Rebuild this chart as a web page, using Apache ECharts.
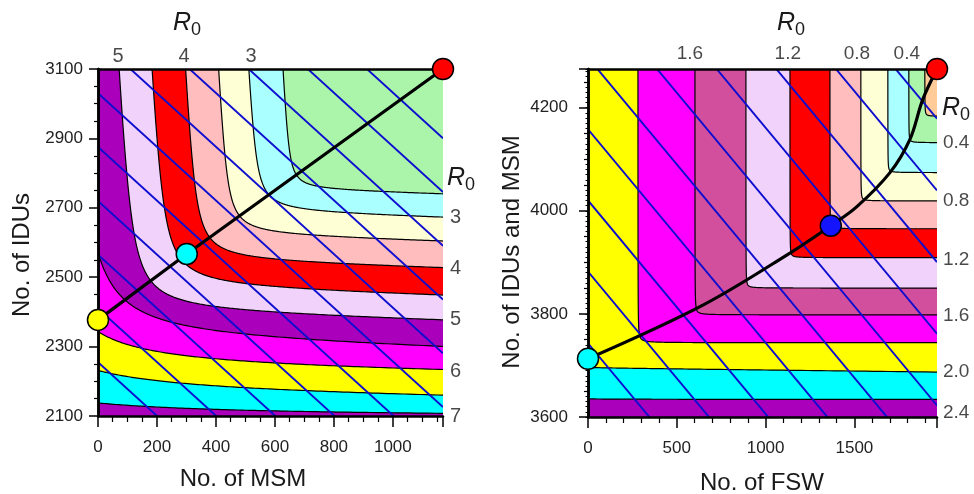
<!DOCTYPE html>
<html>
<head>
<meta charset="utf-8">
<script src="https://cdn.jsdelivr.net/npm/echarts@6/dist/echarts.min.js"></script>
<style>
  html, body { margin: 0; padding: 0; background: #fff; }
  #chart { width: 974px; height: 494px; }
</style>
</head>
<body>
<div id="chart"></div>
<script>
const FONT = '"Liberation Sans", Arial, sans-serif';

// ---------- 左图：MSM / IDUs ----------
const msmRange = [0, 1170];
const iduRange = [2100, 3100];
const leftLevels = [7, 6.5, 6, 5.5, 5, 4.5, 4, 3.5, 3, 2.5];
// 每条等值线：竖直渐近线(MSM)、水平渐近线(IDUs)、拐角弯曲度、水平段倾斜
const leftAsymMsm = [-536, -332, -197, -61, 102, 210, 322, 431, 529, 644];
const leftAsymIdu = [2094, 2163, 2235, 2316, 2397, 2466, 2544, 2619, 2685, 2751];
const leftBend = [23500, 24400, 22500, 19500, 7800, 6800, 4400, 3100, 2900, 1400];
const leftDrift = [0, 0.0128, 0.0128, 0.0255, 0.0255, 0.0255, 0.0255, 0.0255, 0.0255, 0.0255];
const leftLean = 0.0588;
const leftBandColors = ['#00ffff', '#ffff00', '#ff00ff', '#aa00bb', '#f0d2fa', '#ff0000', '#ffbdbd', '#ffffd6', '#aaffff', '#aaf5aa'];
const leftBaseColor = '#aa00bb';
// 蓝色斜线（MSM=0 处的 IDUs 截距）
const leftCostLines = [2255, 2410, 2565, 2720, 2875, 3030, 3185, 3340, 3495, 3650, 3805];
const leftCostSlope = 0.773;
// 黑色路径与圆点
const leftPathMsm = [0, 301, 1170];
const leftPathIdu = [2377, 2567, 3100];
const leftDotColors = ['#ffff00', '#00ffff', '#ff0000'];
// R0 标注
const leftTopR0 = ['5', '4', '3'];
const leftTopR0Msm = [68, 292, 519];
const leftSideR0 = ['3', '4', '5', '6', '7'];
const leftSideR0Idu = [2671, 2524, 2377, 2227, 2100];

// ---------- 右图：FSW / IDUs and MSM ----------
const fswRange = [0, 1965];
const iduMsmRange = [3600, 4275];
const rightLevels = [2.2, 2.0, 1.8, 1.6, 1.4, 1.2, 1.0, 0.8, 0.6, 0.4, 0.2];
const rightAsymFsw = [-270, -270, 281, 602, 889, 1137, 1362, 1536, 1688, 1806, 1896];
const rightAsymIdu = [3634, 3696, 3744, 3798, 3850, 3909, 3965, 4019, 4074, 4132, 4183];
const rightBend = [300, 300, 140, 100, 70, 60, 60, 55, 50, 45, 40];
const rightDrift = [0, 0.004, 0, 0, 0, 0, 0, 0, 0, 0, 0];
const rightLean = 0;
const rightBandColors = ['#00ffff', '#ffff00', '#ff00ff', '#d24f9e', '#f0d2fa', '#ff0000', '#ffbdbd', '#ffffd6', '#aaffff', '#aaf5aa', '#ffcc99'];
const rightBaseColor = '#aa00bb';
const rightCostLines = [3743, 3882, 4020, 4158, 4297, 4436, 4575, 4714, 4853, 4992];
const rightCostSlope = 0.414;
const rightPathFsw = [0, 647, 1137, 1367, 1514, 1700, 1812, 1885, 1965];
const rightPathIdu = [3713, 3817, 3918, 3971, 4008, 4074, 4138, 4216, 4275];
const rightDotFsw = [0, 1367, 1965];
const rightDotIdu = [3713, 3971, 4275];
const rightDotColors = ['#00ffff', '#1414ff', '#ff0000'];
const rightTopR0 = ['1.6', '1.2', '0.8', '0.4'];
const rightTopR0Fsw = [574, 1125, 1514, 1795];
const rightSideR0 = ['0.4', '0.8', '1.2', '1.6', '2.0', '2.4'];
const rightSideR0Idu = [4132, 4019, 3905, 3796, 3687, 3608];

const chart = echarts.init(document.getElementById('chart'));

function clipOf(params) {
  const c = params.coordSys;
  return { type: 'rect', shape: { x: c.x, y: c.y, width: c.width, height: c.height } };
}

// 等值线围成的区域（R0 低于该水平的右上区域）
function bandRenderer(asymX, asymY, bend, drift, lean, xr, yr, colors) {
  return function (params, api) {
    const i = params.dataIndex;
    const a = asymX[i], b = asymY[i], k = bend[i], be = drift[i];
    const d = 1 - lean * be;
    const tMin = k / (yr[1] - b + (yr[1] - yr[0]));
    const tMax = (xr[1] - a) + (xr[1] - xr[0]);
    const pts = [];
    const n = 400;
    for (let j = 0; j <= n; j++) {
      const t = tMin * Math.pow(tMax / tMin, j / n);
      const X = (t - lean * k / t) / d;
      const Y = (k / t - be * t) / d;
      pts.push(api.coord([a + X, b + Y]));
    }
    const first = pts[0], last = pts[pts.length - 1];
    pts.push([last[0], first[1]]);
    return {
      type: 'polygon',
      clipPath: clipOf(params),
      shape: { points: pts },
      style: { fill: colors[i], stroke: '#000', lineWidth: 1.2 }
    };
  };
}

function costRenderer(lines, slope, xr) {
  return function (params, api) {
    const c = lines[params.dataIndex];
    const p1 = api.coord([xr[0], c - slope * xr[0]]);
    const p2 = api.coord([xr[1], c - slope * xr[1]]);
    return {
      type: 'line',
      clipPath: clipOf(params),
      shape: { x1: p1[0], y1: p1[1], x2: p2[0], y2: p2[1] },
      style: { stroke: '#0d0dd0', lineWidth: 1.9 }
    };
  };
}

// 只在 min + n*interval 处显示刻度值，不加千位分隔符
function tickFormatter(range, interval) {
  return function (v) {
    const r = (v - range[0]) / interval;
    return Math.abs(r - Math.round(r)) < 1e-6 ? String(v) : '';
  };
}

function mainXAxis(grid, range, interval, minorSplit) {
  return {
    type: 'value', gridIndex: grid, min: range[0], max: range[1], interval: interval, z: 10,
    axisLine: { lineStyle: { color: '#000', width: 2.5 } },
    axisTick: { length: 11, lineStyle: { color: '#000', width: 1.5 } },
    minorTick: { show: true, splitNumber: minorSplit, length: 6, lineStyle: { color: '#000', width: 1.2 } },
    axisLabel: { fontFamily: FONT, fontSize: 17, color: '#222', margin: 23, formatter: tickFormatter(range, interval) },
    splitLine: { show: false }
  };
}
function mainYAxis(grid, range, interval, margin) {
  return {
    type: 'value', gridIndex: grid, min: range[0], max: range[1], interval: interval, z: 10,
    axisLine: { lineStyle: { color: '#000', width: 2.5 } },
    axisTick: { length: 9, lineStyle: { color: '#000', width: 1.5 } },
    minorTick: { show: true, splitNumber: 4, length: 4, lineStyle: { color: '#000', width: 1.2 } },
    axisLabel: { fontFamily: FONT, fontSize: 17, color: '#222', margin: margin, formatter: tickFormatter(range, interval) },
    splitLine: { show: false }
  };
}
function frameAxis(grid, range, pos) {
  return {
    type: 'value', gridIndex: grid, min: range[0], max: range[1], position: pos, z: 10,
    axisLine: { lineStyle: { color: '#000', width: 2.5 } },
    axisTick: { show: false }, axisLabel: { show: false }, splitLine: { show: false }
  };
}
// 右图纵轴上的细小刻度（每 10）
function fineTickAxis(grid, range) {
  return {
    type: 'value', gridIndex: grid, min: range[0], max: range[1], interval: 10, position: 'left', z: 10,
    axisLine: { show: false },
    axisTick: { length: 2.5, lineStyle: { color: '#000', width: 1 } },
    axisLabel: { show: false }, splitLine: { show: false }
  };
}

function labelSeries(xi, yi, pts, texts, position, distance, size) {
  return {
    type: 'scatter', xAxisIndex: xi, yAxisIndex: yi, symbolSize: 0, clip: false, silent: true, z: 30,
    data: pts.map((p, i) => ({ value: p, label: { formatter: texts[i] } })),
    label: { show: true, position: position, distance: distance, fontFamily: FONT, fontSize: size, color: '#1a1a1a' }
  };
}

function r0Title(x, y, rSize, sSize) {
  return [
    { type: 'text', x: x, y: y, z: 50, style: { text: 'R', font: 'italic ' + rSize + 'px ' + FONT, fill: '#1a1a1a', textAlign: 'left', textVerticalAlign: 'middle' } },
    { type: 'text', x: x + rSize * 0.72, y: y + rSize * 0.3, z: 50, style: { text: '0', font: sSize + 'px ' + FONT, fill: '#1a1a1a', textAlign: 'left', textVerticalAlign: 'middle' } }
  ];
}

const option = {
  backgroundColor: '#fff',
  animation: false,
  grid: [
    { left: 98, top: 69, width: 345, height: 347, show: true, backgroundColor: leftBaseColor, borderWidth: 0 },
    { left: 588, top: 69, width: 349, height: 348, show: true, backgroundColor: rightBaseColor, borderWidth: 0 }
  ],
  xAxis: [
    mainXAxis(0, msmRange, 200, 4),
    frameAxis(0, msmRange, 'top'),
    mainXAxis(1, fswRange, 500, 5),
    frameAxis(1, fswRange, 'top')
  ],
  yAxis: [
    mainYAxis(0, iduRange, 200, 15),
    frameAxis(0, iduRange, 'right'),
    mainYAxis(1, iduMsmRange, 200, 20),
    frameAxis(1, iduMsmRange, 'right'),
    fineTickAxis(1, iduMsmRange)
  ],
  graphic: [
    { type: 'text', x: 243, y: 479, z: 50, style: { text: 'No. of MSM', font: '24px ' + FONT, fill: '#1a1a1a', textAlign: 'center', textVerticalAlign: 'middle' } },
    { type: 'text', x: 762, y: 483, z: 50, style: { text: 'No. of FSW', font: '24px ' + FONT, fill: '#1a1a1a', textAlign: 'center', textVerticalAlign: 'middle' } },
    { type: 'text', x: 22, y: 255, rotation: Math.PI / 2, z: 50, style: { text: 'No. of IDUs', font: '24px ' + FONT, fill: '#1a1a1a', textAlign: 'center', textVerticalAlign: 'middle' } },
    { type: 'text', x: 512, y: 252, rotation: Math.PI / 2, z: 50, style: { text: 'No. of IDUs and MSM', font: '24px ' + FONT, fill: '#1a1a1a', textAlign: 'center', textVerticalAlign: 'middle' } }
  ].concat(r0Title(173, 23, 25, 18), r0Title(447, 178, 25, 18), r0Title(777, 23, 25, 18), r0Title(942, 108, 25, 18)),
  series: [
    // 左图
    {
      type: 'custom', xAxisIndex: 0, yAxisIndex: 0, clip: true, silent: true, z: 1,
      renderItem: bandRenderer(leftAsymMsm, leftAsymIdu, leftBend, leftDrift, leftLean, msmRange, iduRange, leftBandColors),
      data: leftLevels.map((lv, i) => [leftAsymMsm[i], leftAsymIdu[i]])
    },
    {
      type: 'custom', xAxisIndex: 0, yAxisIndex: 0, clip: true, silent: true, z: 3,
      renderItem: costRenderer(leftCostLines, leftCostSlope, msmRange),
      data: leftCostLines.map(c => [msmRange[0], c])
    },
    {
      type: 'line', xAxisIndex: 0, yAxisIndex: 0, symbol: 'none', silent: true, z: 8,
      lineStyle: { color: '#000', width: 3.2 },
      data: leftPathMsm.map((x, i) => [x, leftPathIdu[i]])
    },
    {
      type: 'scatter', xAxisIndex: 0, yAxisIndex: 0, symbolSize: 21, clip: false, silent: true, z: 20,
      itemStyle: { borderColor: '#000', borderWidth: 1.5, opacity: 1 },
      data: leftPathMsm.map((x, i) => ({ value: [x, leftPathIdu[i]], itemStyle: { color: leftDotColors[i] } }))
    },
    labelSeries(0, 0, leftTopR0Msm.map(x => [x, iduRange[1]]), leftTopR0, 'top', 3, 20),
    labelSeries(0, 0, leftSideR0Idu.map(y => [msmRange[1], y]), leftSideR0, 'right', 7, 20),
    // 右图
    {
      type: 'custom', xAxisIndex: 2, yAxisIndex: 2, clip: true, silent: true, z: 1,
      renderItem: bandRenderer(rightAsymFsw, rightAsymIdu, rightBend, rightDrift, rightLean, fswRange, iduMsmRange, rightBandColors),
      data: rightLevels.map((lv, i) => [rightAsymFsw[i], rightAsymIdu[i]])
    },
    {
      type: 'custom', xAxisIndex: 2, yAxisIndex: 2, clip: true, silent: true, z: 3,
      renderItem: costRenderer(rightCostLines, rightCostSlope, fswRange),
      data: rightCostLines.map(c => [fswRange[0], c])
    },
    {
      type: 'line', xAxisIndex: 2, yAxisIndex: 2, symbol: 'none', silent: true, z: 8, smooth: 0.35,
      lineStyle: { color: '#000', width: 3.2 },
      data: rightPathFsw.map((x, i) => [x, rightPathIdu[i]])
    },
    {
      type: 'scatter', xAxisIndex: 2, yAxisIndex: 2, symbolSize: 21, clip: false, silent: true, z: 20,
      itemStyle: { borderColor: '#000', borderWidth: 1.5, opacity: 1 },
      data: rightDotFsw.map((x, i) => ({ value: [x, rightDotIdu[i]], itemStyle: { color: rightDotColors[i] } }))
    },
    labelSeries(2, 2, rightTopR0Fsw.map(x => [x, iduMsmRange[1]]), rightTopR0, 'top', 6, 19),
    labelSeries(2, 2, rightSideR0Idu.map(y => [fswRange[1], y]), rightSideR0, 'right', 6, 19)
  ]
};

chart.setOption(option);
</script>
</body>
</html>
